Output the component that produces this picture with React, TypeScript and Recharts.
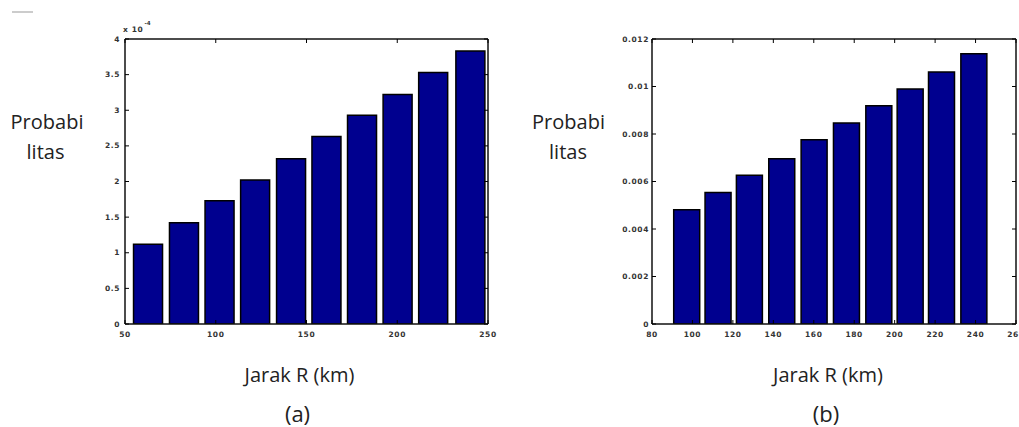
import React from 'react';
import { BarChart, Bar, XAxis, YAxis } from 'recharts';

// Panel (a): distance (km) vs probability (values in units of 1e-4)
const panelAX = [62.8, 82.6, 102.2, 121.8, 141.6, 161.1, 180.7, 200.3, 219.9, 240.4];
const panelAValues = [1.12, 1.42, 1.73, 2.02, 2.32, 2.63, 2.93, 3.22, 3.53, 3.83];
const panelAXTicks = [50, 100, 150, 200, 250];
const panelAYTicks = [0, 0.5, 1, 1.5, 2, 2.5, 3, 3.5, 4];

// Panel (b): distance (km) vs probability
const panelBX = [97, 112.5, 128, 144, 160, 176, 192, 207.5, 223, 239];
const panelBValues = [0.00481, 0.00554, 0.00626, 0.00696, 0.00776, 0.00846, 0.00919, 0.00989, 0.01061, 0.01138];
const panelBXTicks = [80, 100, 120, 140, 160, 180, 200, 220, 240, 260];
const panelBYTicks = [0, 0.002, 0.004, 0.006, 0.008, 0.01, 0.012];

const BAR_FILL = '#00008F';
const AXIS_LINE = { stroke: '#111', strokeWidth: 1.5 };
const TICK_FONT = { fontSize: 7.5, fontFamily: 'DejaVu Sans', fill: '#333', letterSpacing: 0.6, fontWeight: 'bold' } as const;
const TEXT_FONT = 'Open Sans';

const makeBottomTick = () => (props: any) => {
  const { x, y, payload } = props;
  return (
    <g>
      <line x1={x} y1={y} x2={x} y2={y - 4} stroke="#000" />
      <text x={x} y={y + 13} textAnchor="middle" {...TICK_FONT}>{String(payload.value)}</text>
    </g>
  );
};
const makeLeftTick = (gap: number) => (props: any) => {
  const { x, y, payload } = props;
  return (
    <g>
      <line x1={x} y1={y} x2={x + 4} y2={y} stroke="#000" />
      <text x={x - gap} y={y + 2.6} textAnchor="end" {...TICK_FONT}>{String(payload.value)}</text>
    </g>
  );
};
const TopTick = (props: any) => {
  const { x, y } = props;
  return <line x1={x} y1={y} x2={x} y2={y + 4} stroke="#000" />;
};
const RightTick = (props: any) => {
  const { x, y } = props;
  return <line x1={x} y1={y} x2={x - 4} y2={y} stroke="#000" />;
};

type PanelProps = {
  xs: number[];
  values: number[];
  xTicks: number[];
  yTicks: number[];
  xDomain: [number, number];
  yDomain: [number, number];
  width: number;
  height: number;
  margin: { top: number; right: number; bottom: number; left: number };
  barSize: number;
  labelGap: number;
};

function Panel(p: PanelProps) {
  const data = p.xs.map((x, i) => ({ x, v: p.values[i] }));
  return (
    <BarChart width={p.width} height={p.height} data={data} margin={p.margin}>
      <XAxis
        dataKey="x"
        type="number"
        domain={p.xDomain}
        ticks={p.xTicks}
        allowDataOverflow
        interval={0}
        height={20}
        tickSize={0}
        tickMargin={0}
        tickLine={false}
        axisLine={AXIS_LINE}
        tick={makeBottomTick()}
      />
      <XAxis
        xAxisId="top"
        dataKey="x"
        orientation="top"
        type="number"
        domain={p.xDomain}
        ticks={p.xTicks}
        allowDataOverflow
        interval={0}
        height={1}
        tickSize={0}
        tickMargin={0}
        tickLine={false}
        axisLine={AXIS_LINE}
        tick={TopTick}
      />
      <YAxis
        type="number"
        domain={p.yDomain}
        ticks={p.yTicks}
        allowDataOverflow
        interval={0}
        width={40}
        tickSize={0}
        tickMargin={0}
        tickLine={false}
        axisLine={AXIS_LINE}
        tick={makeLeftTick(p.labelGap)}
      />
      <YAxis
        yAxisId="right"
        orientation="right"
        type="number"
        domain={p.yDomain}
        ticks={p.yTicks}
        allowDataOverflow
        interval={0}
        width={1}
        tickSize={0}
        tickMargin={0}
        tickLine={false}
        axisLine={AXIS_LINE}
        tick={RightTick}
      />
      <Bar dataKey="v" barSize={p.barSize} fill={BAR_FILL} stroke="#000" strokeWidth={1.5} isAnimationActive={false} />
      <Bar dataKey="v" xAxisId="top" yAxisId="right" fill="none" stroke="none" barSize={0} legendType="none" isAnimationActive={false} />
    </BarChart>
  );
}

export default function App() {
  const textStyle = { fontFamily: TEXT_FONT, fill: '#222' };
  return (
    <div style={{ position: 'absolute', left: 0, top: 0, width: 1019, height: 427, background: '#fff', overflow: 'hidden' }}>
      <div style={{ position: 'absolute', left: 0, top: 0 }}>
        <Panel
          xs={panelAX}
          values={panelAValues}
          xTicks={panelAXTicks}
          yTicks={panelAYTicks}
          xDomain={[50, 250]}
          yDomain={[0, 4]}
          width={510}
          height={427}
          margin={{ top: 38, right: 21, bottom: 83, left: 85 }}
          barSize={29}
          labelGap={5}
        />
      </div>
      <div style={{ position: 'absolute', left: 510, top: 0 }}>
        <Panel
          xs={panelBX}
          values={panelBValues}
          xTicks={panelBXTicks}
          yTicks={panelBYTicks}
          xDomain={[80, 260]}
          yDomain={[0, 0.012]}
          width={509}
          height={427}
          margin={{ top: 38, right: 2, bottom: 83, left: 102 }}
          barSize={26}
          labelGap={3}
        />
      </div>
      <svg width={1019} height={427} style={{ position: 'absolute', left: 0, top: 0, pointerEvents: 'none' }}>
        <line x1={12} y1={12} x2={33} y2={12} stroke="#999" strokeWidth={1} />
        <text x={123} y={31.5} {...TICK_FONT}>x 10</text>
        <text x={144.5} y={24.5} fontSize={5.5} fontFamily="DejaVu Sans" fill="#333" fontWeight="bold">-4</text>

        <text x={47} y={128.5} textAnchor="middle" fontSize={20} {...textStyle}>Probabi</text>
        <text x={45.5} y={159} textAnchor="middle" fontSize={20} {...textStyle}>litas</text>
        <text x={568.5} y={128.5} textAnchor="middle" fontSize={20} {...textStyle}>Probabi</text>
        <text x={568} y={159} textAnchor="middle" fontSize={20} {...textStyle}>litas</text>

        <text x={299.5} y={381.5} textAnchor="middle" fontSize={20} {...textStyle}>Jarak R (km)</text>
        <text x={828} y={381.5} textAnchor="middle" fontSize={20} {...textStyle}>Jarak R (km)</text>
        <text x={297.5} y={422} textAnchor="middle" fontSize={22} {...textStyle}>(a)</text>
        <text x={826} y={422} textAnchor="middle" fontSize={22} {...textStyle}>(b)</text>
      </svg>
    </div>
  );
}
